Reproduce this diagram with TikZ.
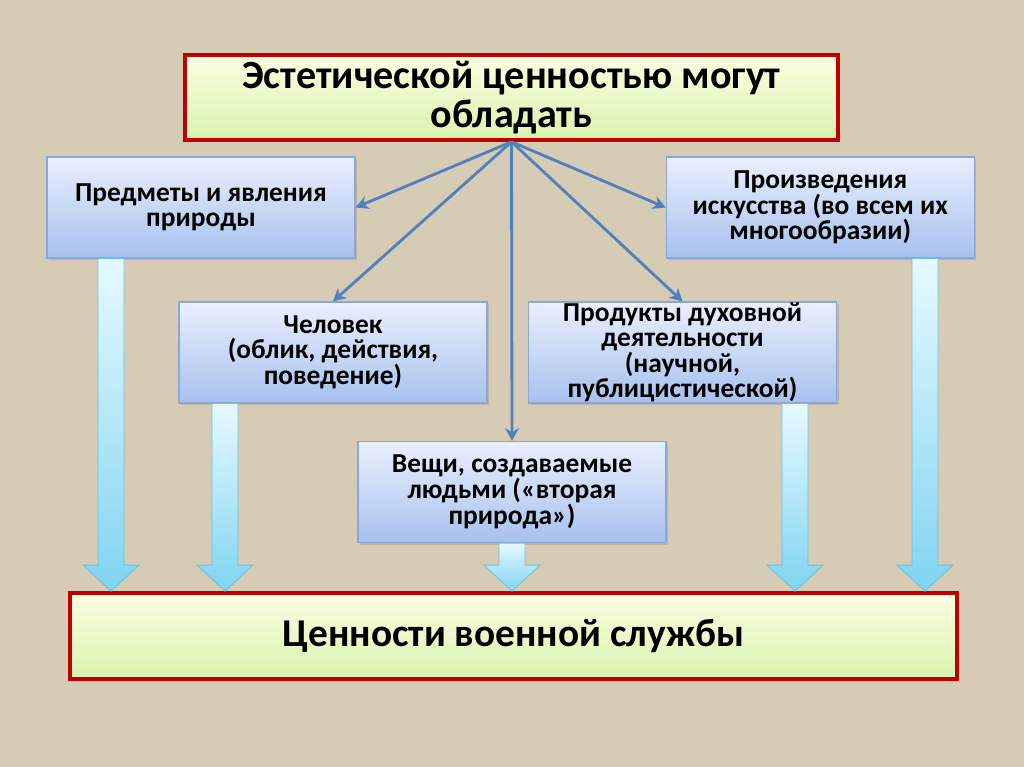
\documentclass[tikz,border=0pt]{standalone}
\usepackage{fontspec}
\setmainfont{Carlito}
\usetikzlibrary{arrows.meta, positioning, calc, shadows}
\definecolor{linen}{HTML}{D6CCB6}
\definecolor{boxedge}{HTML}{8CA6D6}
\definecolor{boxtop}{HTML}{EAEFFD}
\definecolor{boxbot}{HTML}{A7C1EE}
\definecolor{headred}{HTML}{C00000}
\definecolor{headtop}{HTML}{FBFEE2}
\definecolor{headbot}{HTML}{D9F3AE}
\definecolor{arrblue}{HTML}{4F81BD}
\definecolor{barrtop}{HTML}{E6F9FF}
\definecolor{barrbot}{HTML}{80D4F1}
\definecolor{barredge}{HTML}{6CC3DF}
\tikzset{
  box/.style = {rectangle, draw=boxedge, line width=0.8pt, top color=boxtop, bottom color=boxbot,
                minimum width=7.7cm, minimum height=2.525cm, align=center,
                font=\fontsize{19.5}{17.6}\selectfont\bfseries, inner xsep=4pt, inner ysep=0.5pt,
                drop shadow={opacity=0.3, shadow xshift=1.5pt, shadow yshift=-1.5pt}},
  headbox/.style = {rectangle, draw=headred, line width=2.6pt, top color=headtop, bottom color=headbot,
                align=center, inner sep=4pt,
                drop shadow={opacity=0.3, shadow xshift=1.5pt, shadow yshift=-1.5pt}},
  arr/.style = {-{Stealth[length=3.2mm,width=3.4mm]}, line width=2pt, draw=arrblue},
  barr/.style = {draw=barredge, line width=0.6pt, top color=barrtop, bottom color=barrbot}
}
% wide arrow: from node, to node, x
\newcommand\bigarr[3]{%
  \path[barr] (#1.south -| #3-13,0) -- (#1.south -| #3+13,0)
    -- ($(#2.north -| #3+13,0)+(0,-26)$) -- ($(#2.north -| #3+28,0)+(0,-26)$)
    -- (#2.north -| #3,0) -- ($(#2.north -| #3-28,0)+(0,-26)$)
    -- ($(#2.north -| #3-13,0)+(0,-26)$) -- cycle;}

\begin{document}
\begin{tikzpicture}[x=0.025cm, y=-0.025cm]
\useasboundingbox (0,0) rectangle (1024,767);
\fill[linen] (0,0) rectangle (1024,767);

% Top
\node[headbox, minimum width=16.325cm, minimum height=2.125cm,
      font=\fontsize{28.5}{27.5}\selectfont\bfseries] (src) at (511.5,97.5)
  {Эстетической ценностью могут\\обладать};

% Row 1
\node[box] (n1) at (201,207.5) {Предметы и явления\\природы};
\node[box, right=7.75cm of n1] (n2) {Произведения\\искусства (во всем их\\многообразии)};

% Row 2
\node[box] (n3) at (333,352.5) {Человек\\(облик, действия,\\поведение)};
\node[box] (n4) at (682.5,352.5) {Продукты духовной\\деятельности\\(научной,\\публицистической)};

% Row 3
\node[box] (n5) at (512,492) {Вещи, создаваемые\\людьми («вторая\\природа»)};

% Bottom
\node[headbox, minimum width=22.175cm, minimum height=2.15cm,
      font=\fontsize{28}{28}\selectfont\bfseries] (dst) at (513.5,636)
  {Ценности военной службы};

% ----- ARROWS -----
\draw[arr] (src.south) -- (n1.east);
\draw[arr] (src.south) -- (n2.west);
\draw[arr] (src.south) -- (n3.north);
\draw[arr] (src.south) -- (n4.north);
\draw[arr] (src.south) -- (n5.north);

% wide arrows down
\bigarr{n1}{dst}{111}
\bigarr{n3}{dst}{225}
\bigarr{n5}{dst}{512}
\bigarr{n4}{dst}{795}
\bigarr{n2}{dst}{925}

\end{tikzpicture}
\end{document}
